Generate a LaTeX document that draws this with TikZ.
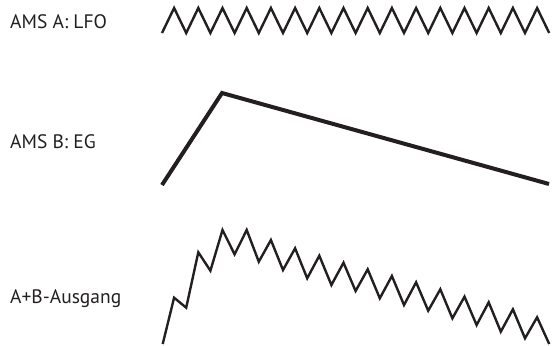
\documentclass[tikz,border=0pt]{standalone}
\usepackage{fontspec}
\setmainfont{PT Sans}
\definecolor{ink}{HTML}{231F20}
\begin{document}
\begin{tikzpicture}[x=1pt,y=-1pt,
  wave/.style={draw=ink,line width=2.4pt,line join=miter},
  env/.style={draw=ink,line width=4pt,line join=miter},
  lbl/.style={anchor=base west,inner sep=0pt,font=\fontsize{19.5}{22}\selectfont,text=ink}]
\useasboundingbox (0,0) rectangle (553,345);
\node[lbl] (la) at (10,28.3) {AMS A: LFO};
\node[lbl] (lb) at (10,148.3) {AMS B: EG};
\node[lbl] (lc) at (10,303.5) {A+B-Ausgang};
% LFO
\draw[wave] (162,33) foreach \i in {0,...,15} { -- ({174.1+24.2*\i},8) -- ({186.2+24.2*\i},33) };
% EG
\draw[env] (162,185) -- (222,93) -- (549,184);
% A+B
\draw[wave] (162.7,344) -- (174.1,297.7) -- (186.2,307.7) -- (198.3,252.3) -- (210.4,270.7)
  -- (222.5,230) -- (234.6,254.3) -- (246.7,230) -- (258.8,261.7) -- (270.9,240)
  -- (283,270) -- (295.1,248.3) -- (307.2,278.3) -- (319.3,255.7) -- (331.4,285)
  -- (343.5,262.7) -- (355.6,291) -- (367.7,269.3) -- (379.8,298.3) -- (391.9,276)
  -- (404,305) -- (416.1,282.3) -- (428.2,310.7) -- (440.3,289.3) -- (452.4,318.3)
  -- (464.5,296.7) -- (476.6,325) -- (488.7,302.3) -- (500.8,331.7) -- (512.9,309.3)
  -- (525,338.3) -- (537.1,317.3) -- (549.2,344);
\end{tikzpicture}
\end{document}
